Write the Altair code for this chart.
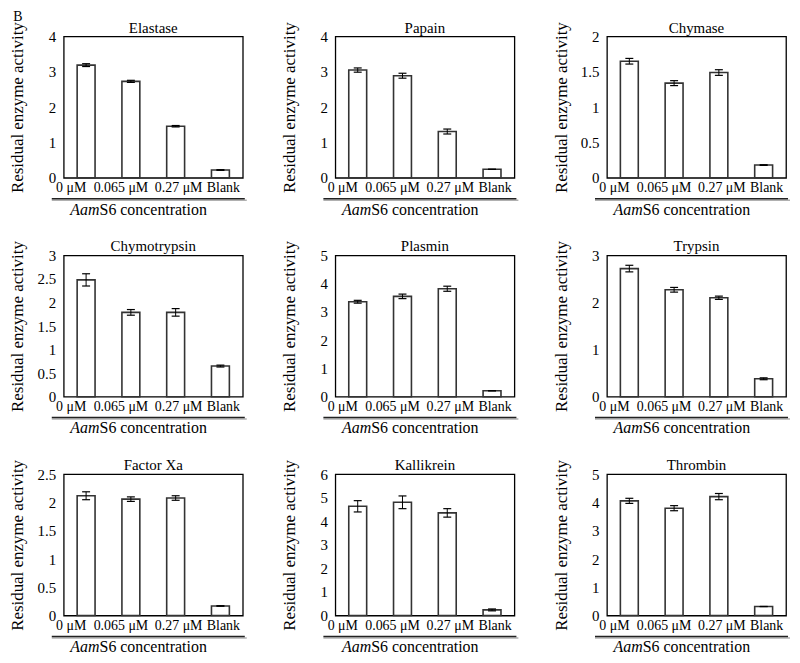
import altair as alt
import pandas as pd

conc = ["0 μM", "0.065 μM", "0.27 μM", "Blank"]
enzymes = ["Elastase", "Papain", "Chymase",
           "Chymotrypsin", "Plasmin", "Trypsin",
           "Factor Xa", "Kallikrein", "Thrombin"]

elastase = [3.19, 2.73, 1.46, 0.22]
elastase_err = [0.04, 0.03, 0.02, 0.01]
papain = [3.05, 2.89, 1.31, 0.24]
papain_err = [0.06, 0.07, 0.07, 0.0]
chymase = [1.65, 1.34, 1.49, 0.18]
chymase_err = [0.04, 0.035, 0.04, 0.005]
chymotrypsin = [2.48, 1.79, 1.79, 0.65]
chymotrypsin_err = [0.13, 0.06, 0.08, 0.02]
plasmin = [3.36, 3.55, 3.82, 0.21]
plasmin_err = [0.05, 0.08, 0.09, 0.0]
trypsin = [2.72, 2.27, 2.10, 0.38]
trypsin_err = [0.07, 0.05, 0.035, 0.02]
factor_xa = [2.12, 2.06, 2.08, 0.17]
factor_xa_err = [0.07, 0.04, 0.04, 0.005]
kallikrein = [4.64, 4.81, 4.36, 0.24]
kallikrein_err = [0.24, 0.27, 0.18, 0.04]
thrombin = [4.06, 3.80, 4.21, 0.32]
thrombin_err = [0.09, 0.09, 0.11, 0.0]

values = [elastase, papain, chymase, chymotrypsin, plasmin, trypsin,
          factor_xa, kallikrein, thrombin]
errors = [elastase_err, papain_err, chymase_err, chymotrypsin_err, plasmin_err,
          trypsin_err, factor_xa_err, kallikrein_err, thrombin_err]
y_max = [4, 4, 2, 3, 5, 3, 2.5, 6, 5]
y_ticks = [
    [0, 1, 2, 3, 4], [0, 1, 2, 3, 4], [0, 0.5, 1, 1.5, 2],
    [0, 0.5, 1, 1.5, 2, 2.5, 3], [0, 1, 2, 3, 4, 5], [0, 1, 2, 3],
    [0, 0.5, 1, 1.5, 2, 2.5], [0, 1, 2, 3, 4, 5, 6], [0, 1, 2, 3, 4, 5],
]

W, H = 180, 142
SERIF = "Liberation Serif"


def panel(i):
    df = pd.DataFrame({"conc": conc, "value": values[i], "err": errors[i]})
    base = alt.Chart(df).transform_calculate(
        lo="datum.value - datum.err", hi="datum.value + datum.err")
    xscale = alt.Scale(paddingInner=0.6, paddingOuter=0.3)
    xaxis = alt.Axis(title=None, labelAngle=0, ticks=False, domain=False,
                     labelFont=SERIF, labelFontSize=14, labelColor="black",
                     labelPadding=3, labelOverlap=False, labelLimit=0,
                     labelOffset={"condition": [{"test": "datum.index < 0.2", "value": -15},
                                                {"test": "datum.index < 0.5", "value": -10}],
                                  "value": 3})
    yscale = alt.Scale(domain=[0, y_max[i]], nice=False, zero=True)
    yaxis = alt.Axis(values=y_ticks[i], format="~g", ticks=False, domain=False,
                     grid=False, labelFont=SERIF, labelFontSize=15,
                     labelColor="black", labelPadding=8, labelOverlap=False,
                     title="Residual enzyme activity", titleFont=SERIF,
                     titleFontSize=17, titleFontWeight="normal",
                     titleColor="black", titleX=-46, titleBaseline="middle")
    xs = alt.X("conc:N", sort=conc, scale=xscale, axis=xaxis)
    bars = base.mark_bar(fill="white", stroke="#333333", strokeWidth=1.6).encode(
        x=xs, y=alt.Y("value:Q", scale=yscale, axis=yaxis))
    rule = base.mark_rule(color="black", strokeWidth=1).encode(
        x=xs, y=alt.Y("lo:Q", scale=yscale, axis=yaxis), y2="hi:Q")
    cap_lo = base.mark_tick(color="black", size=8, thickness=1.2, opacity=1).encode(
        x=xs, y=alt.Y("lo:Q", scale=yscale, axis=yaxis))
    cap_hi = base.mark_tick(color="black", size=8, thickness=1.2, opacity=1).encode(
        x=xs, y=alt.Y("hi:Q", scale=yscale, axis=yaxis))

    one = alt.Chart(pd.DataFrame({"a": [0]}))
    shadow = one.mark_rule(color="#b0b0b0", strokeWidth=1.5).encode(
        x=alt.value(-12), x2=alt.value(184), y=alt.value(H + 22.5))
    hline = one.mark_rule(color="#222222", strokeWidth=1.5).encode(
        x=alt.value(-12), x2=alt.value(182), y=alt.value(H + 21))
    t1 = one.mark_text(text="Aam", font=SERIF, fontSize=16, fontStyle="italic",
                       align="right", baseline="middle", color="black").encode(
        x=alt.value(36), y=alt.value(H + 32))
    t2 = one.mark_text(text="S6 concentration", font=SERIF, fontSize=16,
                       align="left", baseline="middle", color="black").encode(
        x=alt.value(36), y=alt.value(H + 32))
    layers = [bars, rule, cap_lo, cap_hi, shadow, hline, t1, t2]
    return alt.layer(*layers).properties(
        width=W, height=H,
        title=alt.TitleParams(enzymes[i], font=SERIF, fontSize=15,
                              fontWeight="normal", color="black", offset=-8,
                              dy=6, frame="group"))


chart = alt.concat(*[panel(i) for i in range(9)], columns=3,
                   spacing={"row": 78, "column": 93}, bounds="flush").properties(
    padding=0, background="white",
    title=alt.TitleParams("B", anchor="start", frame="bounds", font=SERIF,
                          fontSize=14, fontWeight="normal", color="black",
                          offset=-4, dx=5)
).configure_view(stroke="black", strokeWidth=1.3)

chart.save("out.html", embed_options={"renderer": "svg", "actions": False})
